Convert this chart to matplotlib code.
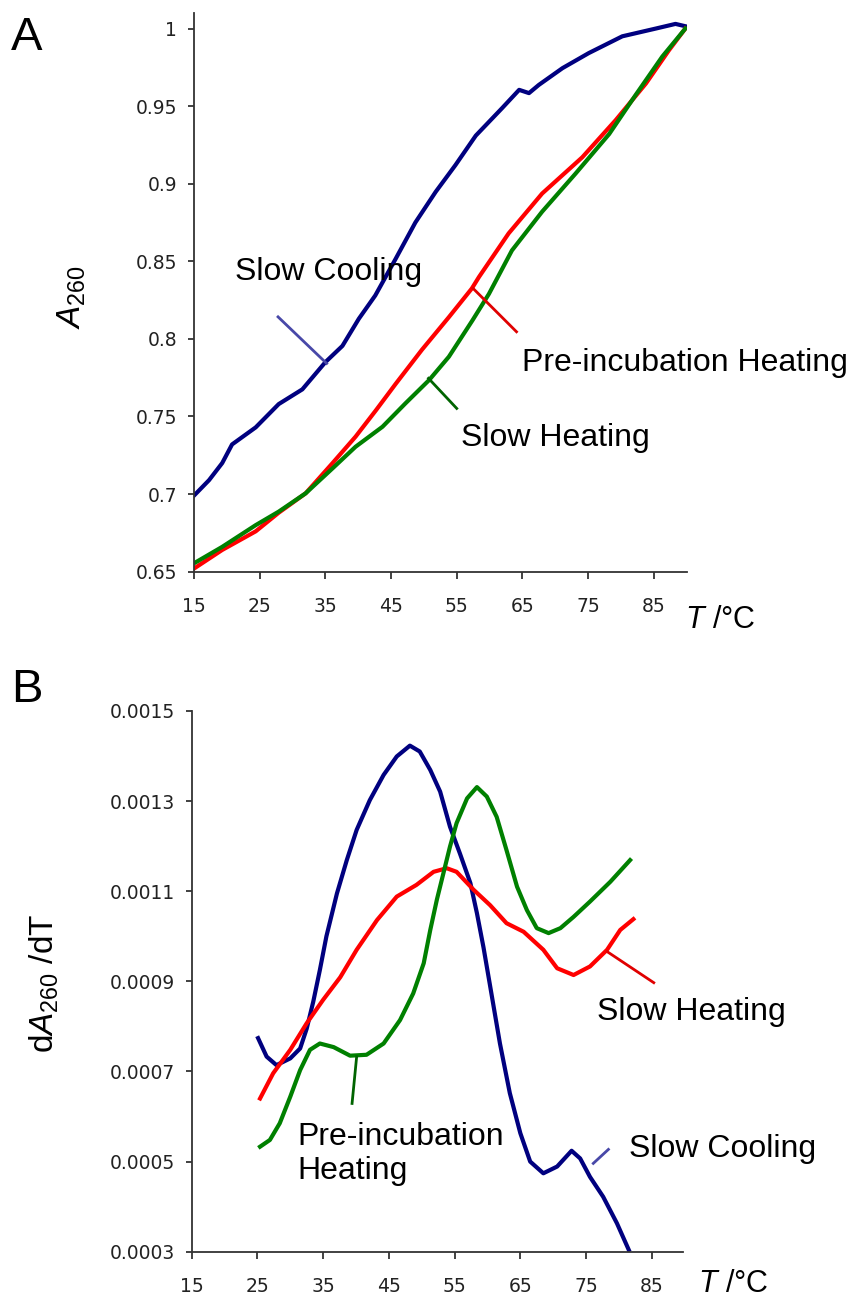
import matplotlib
matplotlib.use("Agg")
import matplotlib.pyplot as plt

plt.rcParams["mathtext.fontset"] = "custom"
plt.rcParams["mathtext.rm"] = "Liberation Sans"
plt.rcParams["mathtext.it"] = "Liberation Sans:italic"

# ---- Panel A: melting curves, A260 vs temperature ----
cool_T = [15.0, 17.3, 19.3, 20.8, 24.4, 27.9, 31.5, 35.0, 37.6, 40.1, 42.6, 45.7,
          48.7, 51.8, 54.8, 57.9, 61.9, 64.5, 66.0, 67.5, 71.1, 75.1, 80.2, 85.3,
          88.3, 89.8]
cool_A = [0.699, 0.709, 0.720, 0.732, 0.743, 0.758, 0.7675, 0.785, 0.7955, 0.813,
          0.828, 0.8516, 0.875, 0.8948, 0.912, 0.931, 0.9487, 0.9605, 0.9584, 0.9637,
          0.9745, 0.9842, 0.995, 1.0, 1.003, 1.0015]

pre_T = [15.0, 19.3, 24.4, 27.9, 32.0, 36.1, 39.6, 42.7, 45.7, 49.7, 53.8, 57.3,
         58.4, 62.9, 68.0, 74.1, 79.2, 83.8, 87.3, 89.8]
pre_A = [0.652, 0.664, 0.676, 0.688, 0.7005, 0.720, 0.737, 0.754, 0.771, 0.793,
         0.814, 0.8325, 0.840, 0.868, 0.8937, 0.917, 0.941, 0.9646, 0.986, 1.0]

heat_T = [15.0, 19.3, 24.4, 27.9, 32.0, 36.1, 39.6, 43.7, 47.2, 50.8, 53.8, 57.4,
          59.9, 63.4, 68.0, 73.1, 78.2, 82.2, 86.3, 89.8]
heat_A = [0.6554, 0.666, 0.680, 0.6887, 0.7005, 0.7166, 0.7305, 0.7434, 0.7585,
          0.7735, 0.7885, 0.812, 0.829, 0.857, 0.882, 0.9066, 0.932, 0.957, 0.982, 1.0]

# ---- Panel B: first derivative dA260/dT ----
dcool_T = [25.1, 26.4, 27.9, 30.0, 31.5, 32.5, 33.5, 34.5, 35.5, 37.1, 38.6, 40.1,
           42.1, 44.2, 46.2, 48.2, 49.7, 51.3, 52.8, 54.3, 55.8, 57.4, 58.4, 59.4,
           60.4, 61.9, 63.4, 65.0, 66.5, 68.5, 70.6, 72.8, 74.1, 75.6, 77.6, 79.7, 81.5]
dcool_v = [0.000774, 0.000733, 0.000714, 0.000729, 0.000751, 0.000795, 0.000855,
           0.000925, 0.001000, 0.001095, 0.001169, 0.001236, 0.001302, 0.001358,
           0.001399, 0.001423, 0.001410, 0.001369, 0.001321, 0.001243, 0.001184,
           0.001118, 0.001051, 0.000975, 0.000890, 0.000762, 0.000652, 0.000563,
           0.000500, 0.000474, 0.000489, 0.000524, 0.000507, 0.000466, 0.000422,
           0.000363, 0.000304]

dheat_T = [25.4, 27.4, 30.0, 32.5, 35.0, 37.6, 40.1, 43.2, 46.2, 49.2, 51.8, 53.8,
           55.3, 57.9, 60.4, 62.9, 65.5, 68.5, 70.6, 73.1, 75.6, 78.2, 80.2, 82.2]
dheat_v = [0.000640, 0.000696, 0.000748, 0.000807, 0.000859, 0.000909, 0.000970,
           0.001036, 0.001088, 0.001114, 0.001143, 0.001151, 0.001143, 0.001103,
           0.001069, 0.001029, 0.001010, 0.000970, 0.000929, 0.000914, 0.000933,
           0.000970, 0.001014, 0.001038]

dpre_T = [25.4, 26.9, 28.4, 30.0, 31.5, 33.0, 34.5, 36.6, 39.1, 41.6, 44.2, 46.7,
          48.7, 50.3, 51.3, 52.3, 53.3, 54.3, 55.3, 56.9, 58.4, 59.9, 61.4, 62.9,
          64.5, 66.0, 67.5, 69.3, 71.1, 73.1, 75.6, 78.7, 81.7]
dpre_v = [0.000533, 0.000548, 0.000585, 0.000644, 0.000703, 0.000748, 0.000762,
          0.000754, 0.000735, 0.000737, 0.000762, 0.000814, 0.000873, 0.000940,
          0.001014, 0.001081, 0.001140, 0.001199, 0.001251, 0.001306, 0.001331,
          0.001310, 0.001265, 0.001191, 0.001110, 0.001058, 0.001018, 0.001007,
          0.001018, 0.001043, 0.001077, 0.001121, 0.001169]

x_ticks = [15, 25, 35, 45, 55, 65, 75, 85]
x_ticklabels = ["15", "25", "35", "45", "55", "65", "75", "85"]
a_ticks = [0.65, 0.7, 0.75, 0.8, 0.85, 0.9, 0.95, 1.0]
a_ticklabels = ["0.65", "0.7", "0.75", "0.8", "0.85", "0.9", "0.95", "1"]
b_ticks = [0.0003, 0.0005, 0.0007, 0.0009, 0.0011, 0.0013, 0.0015]
b_ticklabels = ["0.0003", "0.0005", "0.0007", "0.0009", "0.0011", "0.0013", "0.0015"]

NAVY = "#00007f"
RED = "#ff0000"
GREEN = "#008000"
LBL = dict(fontsize=23, family="Liberation Sans", color="black", va="center")


def style_axes(ax):
    for side in ["top", "right"]:
        ax.spines[side].set_visible(False)
    for side in ["left", "bottom"]:
        ax.spines[side].set_color("#333333")
        ax.spines[side].set_linewidth(1.3)
    ax.tick_params(axis="both", direction="out", colors="#333333", width=1.3,
                   labelcolor="#222222", labelsize=13.5)
    ax.tick_params(axis="y", length=4, pad=8)
    ax.tick_params(axis="x", length=5, pad=13)
    ax.set_xticks(x_ticks)
    ax.set_xticklabels(x_ticklabels)


fig = plt.figure(figsize=(8.47, 13.04), dpi=100)

# Panel A
axA = fig.add_axes([0.229, 0.5616, 0.5817, 0.4284])
axA.plot(cool_T, cool_A, color=NAVY, lw=3)
axA.plot(pre_T, pre_A, color=RED, lw=3)
axA.plot(heat_T, heat_A, color=GREEN, lw=3)
axA.set_xlim(15, 90)
axA.set_ylim(0.65, 1.01)
axA.set_yticks(a_ticks)
axA.set_yticklabels(a_ticklabels)
style_axes(axA)

axA.plot([27.8, 35.2], [0.8142, 0.7842], color="#4848a8", lw=2, clip_on=False)
axA.plot([57.5, 64.1], [0.8325, 0.8046], color="#e00000", lw=2, clip_on=False)
axA.plot([50.7, 55.0], [0.7746, 0.7552], color="#006400", lw=2, clip_on=False)
axA.text(21.2, 0.843, "Slow Cooling", **LBL)
axA.text(64.9, 0.7844, "Pre-incubation Heating", **LBL)
axA.text(55.7, 0.736, "Slow Heating", **LBL)

# Panel B
axB = fig.add_axes([0.2263, 0.0401, 0.5797, 0.4147])
axB.plot(dcool_T, dcool_v, color=NAVY, lw=3)
axB.plot(dheat_T, dheat_v, color=RED, lw=3)
axB.plot(dpre_T, dpre_v, color=GREEN, lw=3)
axB.set_xlim(15, 89.7)
axB.set_ylim(0.0003, 0.0015)
axB.set_yticks(b_ticks)
axB.set_yticklabels(b_ticklabels)
style_axes(axB)

axB.plot([78.2, 85.3], [0.000966, 0.000897], color="#e00000", lw=2, clip_on=False)
axB.plot([40.1, 39.4], [0.000733, 0.000629], color="#006400", lw=2, clip_on=False)
axB.plot([76.1, 78.4], [0.000496, 0.000527], color="#4848a8", lw=2, clip_on=False)
axB.text(76.7, 0.000833, "Slow Heating", **LBL)
axB.text(31.1, 0.000517, "Pre-incubation\nHeating", linespacing=1.2, **LBL)
axB.text(81.5, 0.000529, "Slow Cooling", **LBL)

# panel letters and axis titles
fig.text(0.032, 0.971, "A", fontsize=34, family="Liberation Sans", ha="center", va="center")
fig.text(0.032, 0.471, "B", fontsize=34, family="Liberation Sans", ha="center", va="center")
fig.text(0.085, 0.772, r"$\mathit{A}_{260}$", fontsize=24, rotation=90,
         ha="center", va="center")
fig.text(0.052, 0.246, r"d$\mathit{A}_{260}$ /dT", fontsize=24, rotation=90,
         family="Liberation Sans", ha="center", va="center")
fig.text(0.850, 0.5245, r"$\mathit{T}$ /°C", fontsize=22, family="Liberation Sans",
         ha="center", va="center")
fig.text(0.866, 0.0150, r"$\mathit{T}$ /°C", fontsize=22, family="Liberation Sans",
         ha="center", va="center")

fig.savefig("out.png", dpi=100)
